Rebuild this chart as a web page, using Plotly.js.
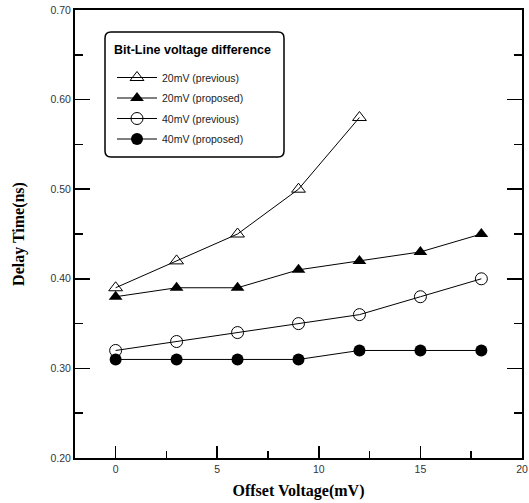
<!DOCTYPE html>
<html>
<head>
<meta charset="utf-8">
<script src="https://cdn.plot.ly/plotly-3.0.1.min.js"></script>
<style>html,body{margin:0;padding:0;background:#fff}#chart{width:529px;height:503px}</style>
</head>
<body>
<div id="chart"></div>
<script>
// Data
const offsetVoltage = [0, 3, 6, 9, 12, 15, 18];
const offset20Prev = [0, 3, 6, 9, 12];
const delay20mVPrevious = [0.39, 0.42, 0.45, 0.50, 0.58];
const delay20mVProposed = [0.38, 0.39, 0.39, 0.41, 0.42, 0.43, 0.45];
const delay40mVPrevious = [0.32, 0.33, 0.34, 0.35, 0.36, 0.38, 0.40];
const delay40mVProposed = [0.31, 0.31, 0.31, 0.31, 0.32, 0.32, 0.32];
const seriesNames = ['20mV (previous)', '20mV (proposed)', '40mV (previous)', '40mV (proposed)'];
const legendTitle = 'Bit-Line voltage difference';
const xTicks = [0, 5, 10, 15, 20];
const yTicks = [0.20, 0.30, 0.40, 0.50, 0.60, 0.70];

const lineStyle = {color: '#000', width: 1};
const traces = [
  {x: offset20Prev, y: delay20mVPrevious, name: seriesNames[0], legendgroup: 'a', mode: 'lines+markers',
   line: lineStyle, marker: {symbol: 'triangle-up-open', size: 12, color: '#000', line: {width: 1, color: '#000'}}},
  {x: offsetVoltage, y: delay20mVProposed, name: seriesNames[1], legendgroup: 'b', mode: 'lines+markers',
   line: lineStyle, marker: {symbol: 'triangle-up', size: 12, color: '#000'}},
  {x: offsetVoltage, y: delay40mVPrevious, name: seriesNames[2], legendgroup: 'c', mode: 'lines+markers',
   line: lineStyle, marker: {symbol: 'circle-open', size: 12, color: '#000', line: {width: 1, color: '#000'}}},
  {x: offsetVoltage, y: delay40mVProposed, name: seriesNames[3], legendgroup: 'd', mode: 'lines+markers',
   line: lineStyle, marker: {symbol: 'circle', size: 12, color: '#000'}}
];

const L = 75, T = 10, W = 447, H = 448;
function px2paperX(p){ return (p - L) / W; }
function px2paperY(p){ return 1 - (p - T) / H; }
const x0 = 105, x1 = 284, y0 = 32, y1 = 157, r = 6;

const layout = {
  width: 529, height: 503,
  margin: {l: 75, r: 7, t: 10, b: 45},
  paper_bgcolor: '#fff', plot_bgcolor: '#fff',
  showlegend: true,
  font: {family: 'Liberation Sans, Arial, sans-serif', color: '#222'},
  xaxis: {
    range: [-2, 20], tickvals: xTicks, ticktext: xTicks.map(String),
    ticks: 'inside', ticklen: 12, tickwidth: 1.5, tickcolor: '#000',
    minor: {dtick: 2.5, tick0: 0, ticks: 'inside', ticklen: 7, tickcolor: '#000', showgrid: false},
    showline: true, linecolor: '#000', linewidth: 2, mirror: true,
    showgrid: false, zeroline: false,
    tickfont: {size: 10.5, family: 'Liberation Sans, Arial, sans-serif', color: '#333'},
    title: {text: 'Offset Voltage(mV)', font: {family: 'Liberation Serif, Times New Roman, serif', size: 16, color: '#000', weight: 'bold'}, standoff: 11}
  },
  yaxis: {
    range: [0.20, 0.70], tickvals: yTicks, tickformat: '.2f',
    ticks: 'inside', ticklen: 15, tickwidth: 1.5, tickcolor: '#000',
    minor: {dtick: 0.05, tick0: 0.2, ticks: 'inside', ticklen: 8, tickcolor: '#000', showgrid: false},
    showline: true, linecolor: '#000', linewidth: 2, mirror: 'ticks',
    showgrid: false, zeroline: false,
    tickfont: {size: 10.5, family: 'Liberation Sans, Arial, sans-serif', color: '#333'},
    title: {text: 'Delay Time(ns)', font: {family: 'Liberation Serif, Times New Roman, serif', size: 16, color: '#000', weight: 'bold'}, standoff: 22}
  },
  legend: {
    x: px2paperX(x0 + 7), y: px2paperY(63), xanchor: 'left', yanchor: 'top',
    bgcolor: 'rgba(0,0,0,0)', borderwidth: 0,
    font: {size: 10.5, family: 'Liberation Sans, Arial, sans-serif', color: '#222'},
    tracegroupgap: 1.5, itemwidth: 40
  },
  annotations: [{
    text: legendTitle, xref: 'paper', yref: 'paper', x: px2paperX(112), y: px2paperY(50),
    xanchor: 'left', yanchor: 'middle', showarrow: false,
    font: {size: 12.5, weight: 'bold', family: 'Liberation Sans, Arial, sans-serif', color: '#000'}
  }],
  shapes: [{
    type: 'path', xref: 'paper', yref: 'paper',
    path: `M ${px2paperX(x0 + r)} ${px2paperY(y0)} L ${px2paperX(x1 - r)} ${px2paperY(y0)} Q ${px2paperX(x1)} ${px2paperY(y0)} ${px2paperX(x1)} ${px2paperY(y0 + r)} L ${px2paperX(x1)} ${px2paperY(y1 - r)} Q ${px2paperX(x1)} ${px2paperY(y1)} ${px2paperX(x1 - r)} ${px2paperY(y1)} L ${px2paperX(x0 + r)} ${px2paperY(y1)} Q ${px2paperX(x0)} ${px2paperY(y1)} ${px2paperX(x0)} ${px2paperY(y1 - r)} L ${px2paperX(x0)} ${px2paperY(y0 + r)} Q ${px2paperX(x0)} ${px2paperY(y0)} ${px2paperX(x0 + r)} ${px2paperY(y0)} Z`,
    line: {color: '#000', width: 1.5}, fillcolor: 'rgba(0,0,0,0)', layer: 'above'
  }]
};

Plotly.newPlot('chart', traces, layout, {displayModeBar: false, staticPlot: true});
</script>
</body>
</html>
